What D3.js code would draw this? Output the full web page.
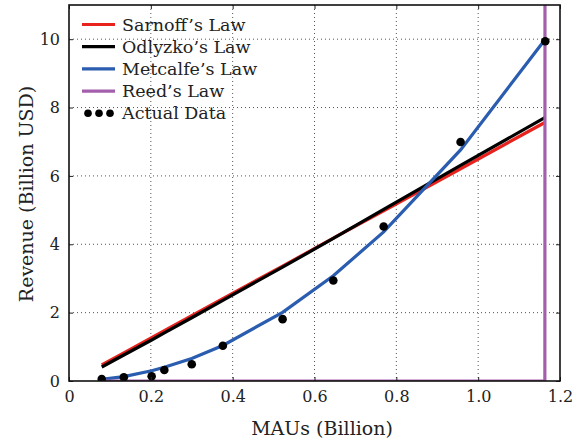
<!DOCTYPE html>
<html>
<head>
<meta charset="utf-8">
<script src="https://cdn.jsdelivr.net/npm/d3@7"></script>
<style>
body { margin: 0; background: #fff; }
text { font-family: "DejaVu Serif", serif; fill: #222; }
</style>
</head>
<body>
<script>
// MAUs (billion) and revenue (billion USD)
var maus = [0.080, 0.134, 0.202, 0.233, 0.300, 0.376, 0.522, 0.646, 0.769, 0.957, 1.164];
var actual = [0.06, 0.11, 0.14, 0.32, 0.49, 1.03, 1.81, 2.94, 4.52, 6.99, 9.94];
var sarnoff = [0.47, 0.82, 1.27, 1.47, 1.91, 2.41, 3.36, 4.18, 4.98, 6.21, 7.57];
var odlyzko = [0.41, 0.76, 1.20, 1.41, 1.85, 2.36, 3.33, 4.17, 5.02, 6.31, 7.71];
var metcalfe = [0.05, 0.13, 0.30, 0.40, 0.66, 1.04, 2.01, 3.08, 4.36, 6.76, 10.0];
// Reed's law stays at zero and shoots up at the last point
var reedX = [0.080, 1.163, 1.164];
var reed = [0, 0, 40];

var xTicks = [0, 0.2, 0.4, 0.6, 0.8, 1.0, 1.2];
var yTicks = [0, 2, 4, 6, 8, 10];

var series = [
    {name: "Sarnoff\u2019s Law", xs: maus, values: sarnoff, color: "#e8231e"},
    {name: "Odlyzko\u2019s Law", xs: maus, values: odlyzko, color: "#000000"},
    {name: "Metcalfe\u2019s Law", xs: maus, values: metcalfe, color: "#2a5caf"},
    {name: "Reed\u2019s Law", xs: reedX, values: reed, color: "#a45fac"}
];

var pLeft = 69, pRight = 560, pTop = 5, pBottom = 381;

var svg = d3.select("body").append("svg")
    .attr("width", 584)
    .attr("height", 444);

var x = d3.scaleLinear().domain([0, 1.2]).range([pLeft, pRight]);
var y = d3.scaleLinear().domain([0, 11]).range([pBottom, pTop]);

// dotted grid
var grid = svg.append("g");
grid.selectAll(".gx").data(xTicks.slice(1, -1)).enter()
    .append("line")
    .attr("x1", function(d){ return x(d); })
    .attr("x2", function(d){ return x(d); })
    .attr("y1", pTop).attr("y2", pBottom)
    .attr("stroke", "#555").attr("stroke-width", 1)
    .attr("stroke-dasharray", "1,3");
grid.selectAll(".gy").data(yTicks.slice(1)).enter()
    .append("line")
    .attr("y1", function(d){ return y(d); })
    .attr("y2", function(d){ return y(d); })
    .attr("x1", pLeft).attr("x2", pRight)
    .attr("stroke", "#555").attr("stroke-width", 1)
    .attr("stroke-dasharray", "1,3");

svg.append("clipPath").attr("id", "clip")
    .append("rect")
    .attr("x", pLeft).attr("y", pTop)
    .attr("width", pRight - pLeft).attr("height", pBottom - pTop);

var plot = svg.append("g").attr("clip-path", "url(#clip)");

plot.selectAll(".law").data(series).enter()
    .append("path")
    .attr("d", function(s){
        return d3.line()
            .x(function(d, i){ return x(s.xs[i]); })
            .y(function(d){ return y(d); })(s.values);
    })
    .attr("fill", "none")
    .attr("stroke", function(d){ return d.color; })
    .attr("stroke-width", 3.2);

plot.selectAll(".dot").data(actual).enter()
    .append("circle")
    .attr("cx", function(d, i){ return x(maus[i]); })
    .attr("cy", function(d){ return y(d); })
    .attr("r", 4.3)
    .attr("fill", "#000");

// axes with inward ticks, mirrored on top and right
svg.append("g").attr("transform", "translate(0," + pBottom + ")")
    .call(d3.axisBottom(x).tickValues(xTicks).tickSizeInner(-4).tickSizeOuter(0)
        .tickPadding(10).tickFormat(function(d){ return d === 0 ? "0" : d3.format(".1f")(d); }));
svg.append("g").attr("transform", "translate(0," + pTop + ")")
    .call(d3.axisTop(x).tickValues(xTicks).tickSizeInner(-4).tickSizeOuter(0).tickFormat(""));
svg.append("g").attr("transform", "translate(" + pLeft + ",0)")
    .call(d3.axisLeft(y).tickValues(yTicks).tickSizeInner(-4).tickSizeOuter(0)
        .tickPadding(9).tickFormat(d3.format("d")));
svg.append("g").attr("transform", "translate(" + pRight + ",0)")
    .call(d3.axisRight(y).tickValues(yTicks).tickSizeInner(-4).tickSizeOuter(0).tickFormat(""));

svg.selectAll(".domain").remove();
svg.selectAll(".tick line").attr("stroke", "#222").attr("stroke-width", 1);
svg.selectAll(".tick text").style("font-size", "16px").attr("fill", "#222");

svg.append("rect")
    .attr("x", pLeft).attr("y", pTop)
    .attr("width", pRight - pLeft).attr("height", pBottom - pTop)
    .attr("fill", "none").attr("stroke", "#111").attr("stroke-width", 1.6);

svg.append("text")
    .attr("x", 322).attr("y", 435)
    .attr("text-anchor", "middle")
    .style("font-size", "19px")
    .text("MAUs (Billion)");

svg.append("text")
    .attr("transform", "translate(33,194) rotate(-90)")
    .attr("text-anchor", "middle")
    .style("font-size", "19px")
    .text("Revenue (Billion USD)");

// legend
var legend = svg.append("g");
var ly = function(i){ return 24.5 + i * 22.2; };
legend.selectAll(".ll").data(series).enter()
    .append("line")
    .attr("x1", 82).attr("x2", 115)
    .attr("y1", function(d, i){ return ly(i); })
    .attr("y2", function(d, i){ return ly(i); })
    .attr("stroke", function(d){ return d.color; })
    .attr("stroke-width", 3.2);
legend.selectAll(".lt").data(series.concat([{name: "Actual Data"}])).enter()
    .append("text")
    .attr("x", 122)
    .attr("y", function(d, i){ return ly(i) + 6; })
    .style("font-size", "17.5px")
    .text(function(d){ return d.name; });
legend.selectAll(".ld").data([88, 99, 110]).enter()
    .append("circle")
    .attr("cx", function(d){ return d; })
    .attr("cy", ly(4))
    .attr("r", 3.8)
    .attr("fill", "#000");
</script>
</body>
</html>
